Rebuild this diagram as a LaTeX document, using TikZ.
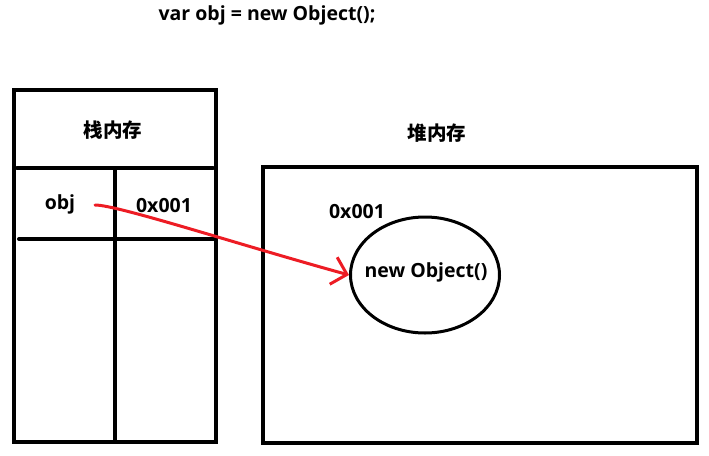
\documentclass[tikz,border=0pt]{standalone}
\usepackage{fontspec}
\setmainfont{Open Sans}
\newfontfamily\cjk{Noto Sans CJK SC}
\usetikzlibrary{arrows.meta,shapes.geometric}
\definecolor{penred}{RGB}{237,28,36}
\begin{document}
\begin{tikzpicture}[x=1pt,y=-1pt,
  thick line/.style={line width=4pt, line cap=round},
  lbl/.style={font=\fontsize{19.5}{22}\selectfont\bfseries, inner sep=0pt},
  cjklbl/.style={font=\fontsize{19.5}{22}\selectfont\cjk\bfseries, inner sep=0pt},
  ptr/.style={draw=penred, line width=3pt, line cap=round, line join=round,
    -{Straight Barb[length=14pt,width=28pt,line width=3pt]}}]
\useasboundingbox (0,0) rectangle (709,455);
% title
\node[lbl] (title) at (267,15) {var obj = new Object();};
% stack memory
\draw[line width=4pt] (14,90) rectangle (216,442);
\draw[thick line] (17,168) -- (213,168);
\draw[thick line] (19,239) -- (215,239);
\draw[line width=4pt] (115,168) -- (115,442);
\node[cjklbl] (stack) at (113,130) {栈内存};
\node[lbl] (obj) at (60,204) {obj};
\node[lbl] (addr) at (164,206) {0x001};
% heap memory
\node[cjklbl] (heap) at (437,133) {堆内存};
\draw[line width=4pt] (263,167) rectangle (697,443);
\node[lbl] (haddr) at (357,212) {0x001};
\node[draw, ellipse, line width=3pt, minimum width=149pt, minimum height=116pt,
      inner sep=0pt] (ell) at (425,275) {};
\node[lbl] (objtext) at (426,272) {new Object()};
% pointer
\coordinate (s) at (95,205);
\draw[ptr] (s) .. controls (118,205) and (240,245) .. (ell.west);
\end{tikzpicture}
\end{document}
